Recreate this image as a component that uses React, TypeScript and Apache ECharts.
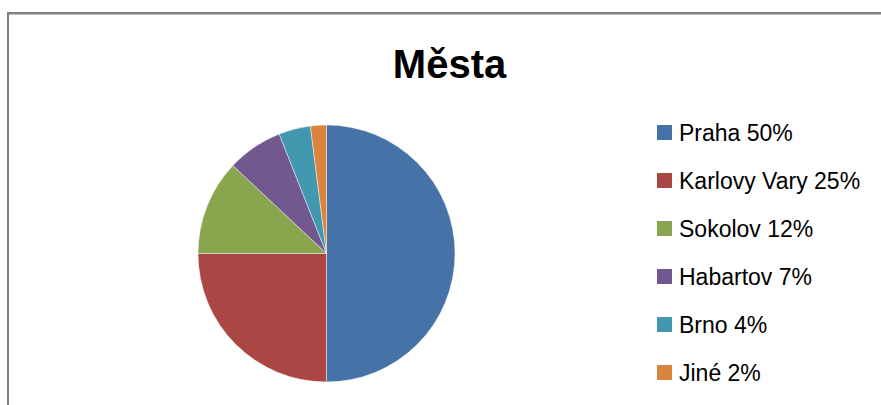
import React, { useEffect, useRef } from "react";
import * as echarts from "echarts";

const titleText = "Města";
const categories = ["Praha", "Karlovy Vary", "Sokolov", "Habartov", "Brno", "Jiné"];
const values = [50, 25, 12, 7, 4, 2];
const colors = ["#4572A7", "#AA4643", "#89A54E", "#71588F", "#4198AF", "#DB843D"];

export default function App() {
  const ref = useRef<HTMLDivElement>(null);
  useEffect(() => {
    if (!ref.current) return;
    const chart = echarts.init(ref.current, undefined, { renderer: "svg" });
    const font = "Liberation Sans, Arial, sans-serif";
    chart.setOption({
      animation: false,
      backgroundColor: "#ffffff",
      color: colors,
      title: {
        text: titleText,
        left: 449.5,
        textAlign: "center",
        top: 44,
        padding: 0,
        textStyle: { fontFamily: font, fontSize: 40, fontWeight: "bold", color: "#000", lineHeight: 40 },
      },
      legend: {
        orient: "vertical",
        left: 657,
        top: 121,
        padding: 0,
        icon: "rect",
        itemWidth: 15,
        itemHeight: 15,
        itemGap: 25,
        selectedMode: false,
        itemStyle: { borderWidth: 0 },
        data: categories,
        formatter: (name: string) => {
          const i = categories.indexOf(name);
          return name + " " + values[i] + "%";
        },
        textStyle: { fontFamily: font, fontSize: 23, color: "#000", lineHeight: 23, padding: [0, 0, 0, 2] },
      },
      graphic: [
        { type: "rect", shape: { x: 7, y: 12, width: 874, height: 2 }, style: { fill: "#808080" }, silent: true },
        { type: "rect", shape: { x: 7, y: 14, width: 874, height: 1 }, style: { fill: "#c0c0c0" }, silent: true },
        { type: "rect", shape: { x: 7, y: 12, width: 2, height: 393 }, style: { fill: "#808080" }, silent: true },
      ],
      series: [
        {
          type: "pie",
          center: [326.5, 253.5],
          radius: 128.5,
          startAngle: 90,
          clockwise: true,
          label: { show: false },
          labelLine: { show: false },
          emphasis: { disabled: true },
          itemStyle: { borderColor: "rgba(255,255,255,0.55)", borderWidth: 0.8 },
          data: categories.map((n, i) => ({ name: n, value: values[i] })),
        },
      ],
    });
    return () => chart.dispose();
  }, []);
  return <div ref={ref} style={{ position: "fixed", left: 0, top: 0, width: 881, height: 405 }} />;
}
